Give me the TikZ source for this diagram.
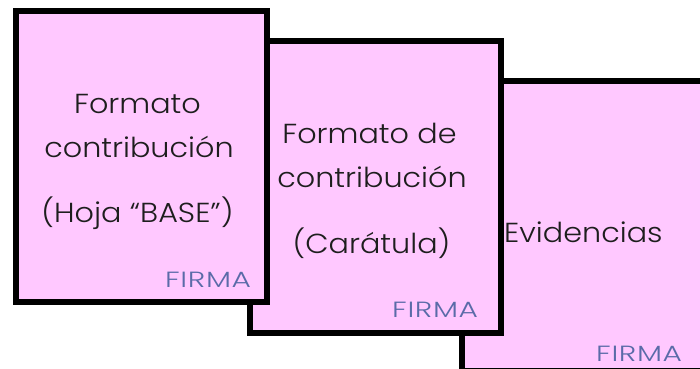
\documentclass[tikz,border=0pt]{standalone}
\usepackage{fontspec}
\setmainfont{Poppins}[UprightFont=* Light, FakeStretch=1.1]
\newfontfamily\firmafont{Poppins}[UprightFont=* Light, FakeStretch=1.35, LetterSpace=3]
\usetikzlibrary{positioning}
\definecolor{hojarosa}{HTML}{FFC8FF}
\definecolor{firmaazul}{HTML}{5A6BA8}
\definecolor{tinta}{HTML}{1E1E1E}
\tikzset{
  hoja/.style={draw=black, fill=hojarosa, line width=6pt, inner sep=0pt,
    minimum width=251pt, minimum height=291pt, anchor=north west},
  texto/.style={text=tinta, font=\fontsize{27.5}{30}\selectfont, inner sep=0pt, anchor=base},
  firma/.style={text=firmaazul, font=\firmafont\fontsize{22}{24}\selectfont, inner sep=0pt, anchor=base west},
}
\begin{document}
\begin{tikzpicture}[x=1pt, y=-1pt]
\useasboundingbox (0,0) rectangle (700,368);

% hojas, la de atras primero
\node[hoja, minimum width=262pt, minimum height=290.5pt] (hoja3) at (458.5,77.5) {};
\node[hoja, minimum width=250.5pt, minimum height=292pt] (hoja2) at (247,37.5) {};
\node[hoja, minimum height=291.5pt] (hoja1) at (13,7.5) {};

% textos
\node[texto] (base1) at (137.5,113) {Formato};
\node[texto] (base2) at (139,157) {contribución};
\node[texto] (base3) at (137.5,222) {(Hoja “BASE”)};

\node[texto] (cara1) at (369.5,143) {Formato de};
\node[texto] (cara2) at (372,187) {contribución};
\node[texto] (cara3) at (371.5,253) {(Carátula)};

\node[texto, anchor=base west] (evid) at (504,242) {Evidencias};

\foreach \n/\x/\y in {1/165/287, 2/392/317, 3/596/361}
  \node[firma] (firma\n) at (\x,\y) {FIRMA};

\end{tikzpicture}
\end{document}
